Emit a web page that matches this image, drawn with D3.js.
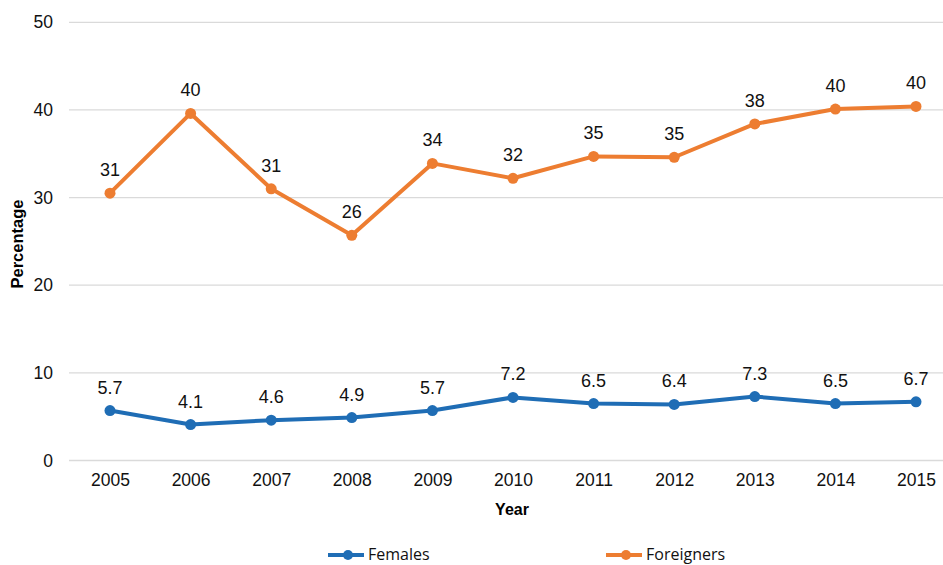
<!DOCTYPE html>
<html><head><meta charset="utf-8">
<script src="https://cdn.jsdelivr.net/npm/d3@7"></script>
<style>body{margin:0;background:#fff}svg{display:block}</style>
</head><body>
<svg id="c" width="943" height="565"></svg>
<script>
const years = ["2005","2006","2007","2008","2009","2010","2011","2012","2013","2014","2015"];
const females = [5.7,4.1,4.6,4.9,5.7,7.2,6.5,6.4,7.3,6.5,6.7];
const foreigners = [30.5,39.6,31.0,25.7,33.9,32.2,34.7,34.6,38.4,40.1,40.4];
const femaleLabels = ["5.7","4.1","4.6","4.9","5.7","7.2","6.5","6.4","7.3","6.5","6.7"];
const foreignerLabels = ["31","40","31","26","34","32","35","35","38","40","40"];
const yTicks = [0,10,20,30,40,50];
const seriesNames = ["Females","Foreigners"];
const colors = ["#1f6db5","#ed7d31"];

const svg = d3.select("#c");
const font = "'Liberation Sans', Arial, sans-serif";
const x = d3.scalePoint().domain(years).range([110,916]);
const y = d3.scaleLinear().domain([0,50]).range([460.5,22.3]);

// grid
svg.append("g").selectAll("line").data(yTicks).join("line")
  .attr("x1",69).attr("x2",943).attr("y1",d=>y(d)).attr("y2",d=>y(d))
  .attr("stroke","#dadada").attr("stroke-width",1.3);

// y axis labels
const yAxis = d3.axisLeft(y).tickValues(yTicks).tickSize(0).tickPadding(0);
const gy = svg.append("g").attr("transform","translate(53,0)").call(yAxis);
gy.select(".domain").remove();
gy.selectAll("text").attr("font-family",font).attr("font-size",17.5).attr("fill","#111");

// x axis labels
const xAxis = d3.axisBottom(x).tickSize(0).tickPadding(0);
const gx = svg.append("g").attr("transform","translate(0,474)").call(xAxis);
gx.select(".domain").remove();
gx.selectAll("text").attr("font-family",font).attr("font-size",17.5).attr("fill","#111");

svg.append("text").attr("x",512).attr("y",515).attr("text-anchor","middle")
  .attr("font-family",font).attr("font-size",16).attr("font-weight","bold").text("Year");
svg.append("text").attr("transform","translate(23,244) rotate(-90)").attr("text-anchor","middle")
  .attr("font-family",font).attr("font-size",16.5).attr("font-weight","bold").text("Percentage");

const series = [
  {name:seriesNames[0], vals:females, labels:femaleLabels, color:colors[0]},
  {name:seriesNames[1], vals:foreigners, labels:foreignerLabels, color:colors[1]}
];
const line = d3.line().x((d,i)=>x(years[i])).y(d=>y(d));
series.forEach(s=>{
  svg.append("path").attr("d",line(s.vals)).attr("fill","none")
    .attr("stroke",s.color).attr("stroke-width",4).attr("stroke-linejoin","round");
  svg.append("g").selectAll("circle").data(s.vals).join("circle")
    .attr("cx",(d,i)=>x(years[i])).attr("cy",d=>y(d)).attr("r",5.5).attr("fill",s.color);
  svg.append("g").selectAll("text").data(s.vals).join("text")
    .attr("x",(d,i)=>x(years[i])).attr("y",d=>y(d)-17)
    .attr("text-anchor","middle").attr("font-family",font).attr("font-size",18).attr("fill","#111")
    .text((d,i)=>s.labels[i]);
});

// legend
const legX = [328,606];
series.forEach((s,i)=>{
  const g = svg.append("g").attr("transform",`translate(${legX[i]},555)`);
  g.append("line").attr("x1",0).attr("x2",36).attr("y1",0).attr("y2",0).attr("stroke",s.color).attr("stroke-width",4);
  g.append("circle").attr("cx",20).attr("cy",0).attr("r",5).attr("fill",s.color);
  g.append("text").attr("x",40).attr("y",5).attr("font-family","'Open Sans', sans-serif").attr("font-size",16).attr("fill","#111").text(s.name);
});
</script>
</body></html>
